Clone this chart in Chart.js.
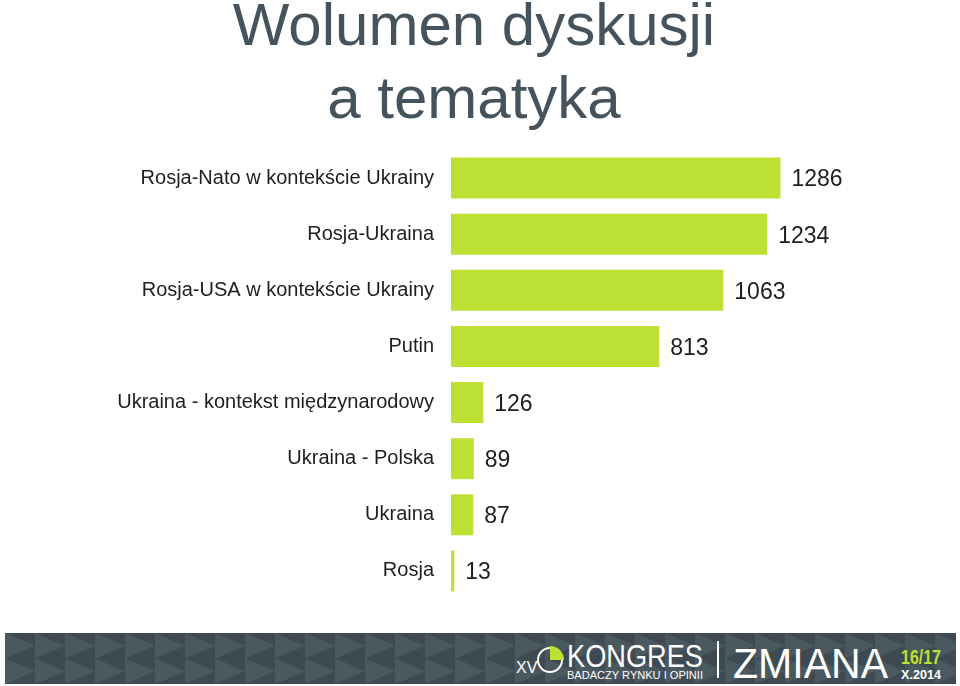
<!DOCTYPE html>
<html lang="pl">
<head>
<meta charset="utf-8">
<title>Wolumen dyskusji a tematyka</title>
<script src="https://cdn.jsdelivr.net/npm/chart.js@4.4.1/dist/chart.umd.min.js"></script>
<style>
  html, body { margin: 0; padding: 0; background: #fff; width: 960px; height: 686px; overflow: hidden; }
  #wrap   { position: absolute; left: 0; top: -8px; width: 960px; height: 638px; }
  #footer { position: absolute; left: 5px; top: 633px; width: 951px; height: 51px; }
</style>
</head>
<body>
<div id="wrap"><canvas id="chart"></canvas></div>

<svg id="footer" width="951" height="51" viewBox="0 0 951 51">
  <defs>
    <pattern id="tri" width="30" height="25.5" patternUnits="userSpaceOnUse">
      <rect width="30" height="25.5" fill="#3d4a52"/>
      <polygon points="0,0 30,12.75 0,25.5" fill="#4a5860"/>
    </pattern>
  </defs>
  <rect width="951" height="51" fill="url(#tri)"/>
  <text x="511" y="40" fill="#fff" font-family="Liberation Sans Narrow, Liberation Sans, sans-serif" font-size="16">XV</text>
  <circle cx="545" cy="27" r="12" fill="none" stroke="#fff" stroke-width="2"/>
  <path d="M545,27 L545,13 A14,14 0 0,1 559,27 Z" fill="#bde034"/>
  <text x="562" y="34" fill="#fff" font-family="Liberation Sans Narrow, Liberation Sans, sans-serif" font-size="32" textLength="136" lengthAdjust="spacingAndGlyphs">KONGRES</text>
  <text x="562" y="46" fill="#fff" font-family="Liberation Sans Narrow, Liberation Sans, sans-serif" font-size="10.5" textLength="136" lengthAdjust="spacingAndGlyphs">BADACZY RYNKU I OPINII</text>
  <line x1="713" y1="8" x2="713" y2="45" stroke="#fff" stroke-width="2"/>
  <text x="728" y="45" fill="#fff" font-family="Liberation Sans, sans-serif" font-size="42" textLength="155" lengthAdjust="spacingAndGlyphs">ZMIANA</text>
  <text x="896" y="31" fill="#bde034" font-weight="bold" font-family="Liberation Sans Narrow, Liberation Sans, sans-serif" font-size="20" textLength="40" lengthAdjust="spacingAndGlyphs">16/17</text>
  <text x="896" y="46" fill="#fff" font-weight="bold" font-family="Liberation Sans Narrow, Liberation Sans, sans-serif" font-size="12" textLength="40" lengthAdjust="spacingAndGlyphs">X.2014</text>
</svg>

<script>
"use strict";

// ── Data ──
const topics = [
  "Rosja-Nato w kontekście Ukrainy",
  "Rosja-Ukraina",
  "Rosja-USA w kontekście Ukrainy",
  "Putin",
  "Ukraina - kontekst międzynarodowy",
  "Ukraina - Polska",
  "Ukraina",
  "Rosja",
];
const volumes = [1286, 1234, 1063, 813, 126, 89, 87, 13];
const titleLines = ["Wolumen dyskusji", "a tematyka"];

// ── Colours / fonts ──
const LIME  = "#bde034";
const SLATE = "#45535d";
const INK   = "#1e1e1e";
const FONT  = "'Liberation Sans', Arial, sans-serif";

// ── Value labels next to each bar ──
const valueLabels = {
  id: "valueLabels",
  afterDatasetsDraw(chart) {
    const { ctx } = chart;
    const meta = chart.getDatasetMeta(0);
    ctx.save();
    ctx.font = `23px ${FONT}`;
    ctx.fillStyle = INK;
    ctx.textAlign = "left";
    ctx.textBaseline = "middle";
    meta.data.forEach((bar, i) => {
      ctx.fillText(String(volumes[i]), bar.x + 11, bar.y + 2);
    });
    ctx.restore();
  },
};

// ── Chart ──
document.addEventListener("DOMContentLoaded", () => {
  const ctx = document.getElementById("chart").getContext("2d");
  new Chart(ctx, {
    type: "bar",
    data: {
      labels: topics,
      datasets: [{
        data: volumes,
        backgroundColor: LIME,
        borderWidth: 0,
        barPercentage: 0.73,
        categoryPercentage: 1,
      }],
    },
    options: {
      indexAxis: "y",
      responsive: true,
      maintainAspectRatio: false,
      animation: false,
      layout: { padding: { left: 0, right: 12, top: 0, bottom: 31 } },
      plugins: {
        legend:  { display: false },
        tooltip: { enabled: false },
        title: {
          display: true,
          text: titleLines,
          color: SLATE,
          font: { family: FONT, size: 60, weight: "normal", lineHeight: "73px" },
          padding: { top: 0, bottom: 12 },
        },
      },
      scales: {
        x: {
          display: false,
          min: 0,
          max: 1940,
        },
        y: {
          grid:   { display: false },
          border: { display: false },
          ticks: {
            color: INK,
            padding: 9,
            font: { family: FONT, size: 20 },
          },
          afterFit(scale) { scale.width = 451; },
        },
      },
    },
    plugins: [valueLabels],
  });
});
</script>
</body>
</html>
